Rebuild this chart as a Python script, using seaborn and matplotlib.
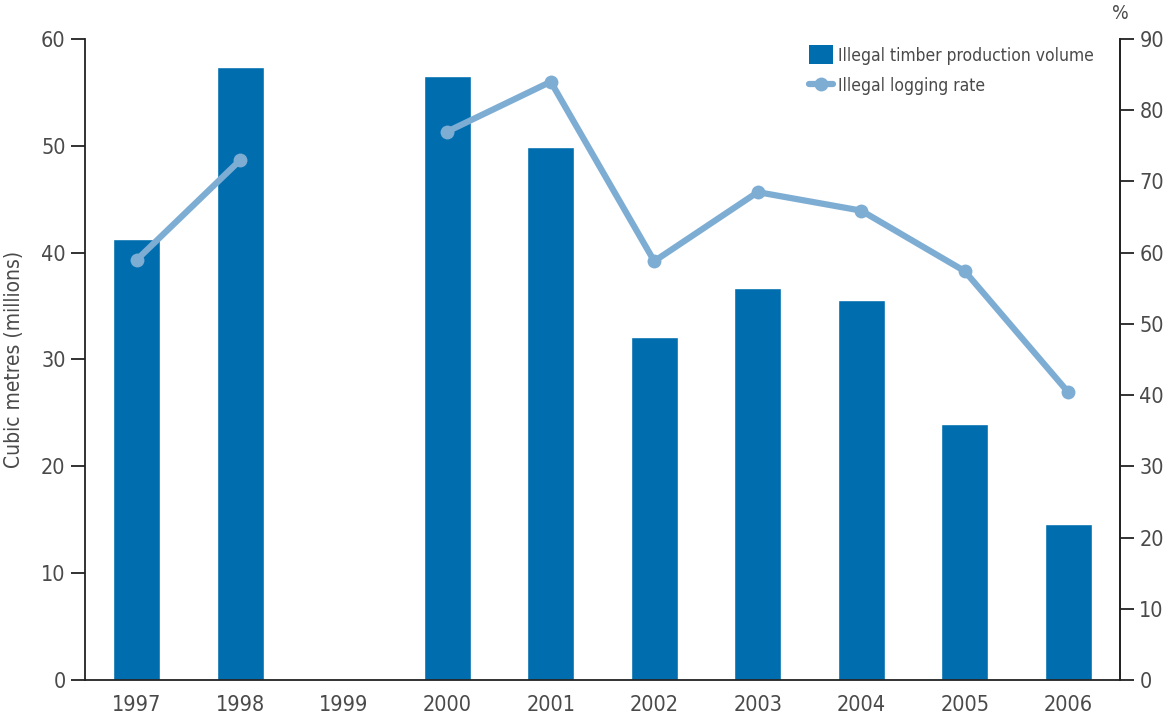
import numpy as np
import pandas as pd
import matplotlib
matplotlib.use("Agg")
import matplotlib.pyplot as plt
from matplotlib.lines import Line2D
from matplotlib.patches import Patch
import seaborn as sns

years = ["1997", "1998", "1999", "2000", "2001", "2002", "2003", "2004", "2005", "2006"]
volume = [41.3, 57.4, np.nan, 56.5, 49.9, 32.1, 36.7, 35.6, 24.0, 14.6]
rate = [59.0, 73.0, np.nan, 77.0, 84.0, 58.8, 68.5, 65.9, 57.4, 40.4]

bar_color = "#006eae"
line_color = "#7eadd4"
text_color = "#4a4a4a"

sns.set_style("white")
plt.rcParams["font.family"] = ["DejaVu Sans"]
plt.rcParams["font.stretch"] = "condensed"

df = pd.DataFrame({"year": years, "volume": volume, "rate": rate})
df["pos"] = np.arange(len(years))
df["seg"] = np.cumsum(df["rate"].isna().astype(int).values)

fig = plt.figure(figsize=(11.63, 7.22), dpi=100)
ax = fig.add_axes([0.0731, 0.0582, 0.8899, 0.8878])

sns.barplot(data=df, x="year", y="volume", color=bar_color, saturation=1,
            width=0.45, ax=ax, order=years)
ax.set_xlim(-0.5, len(years) - 0.5)
ax.set_ylim(0, 60)
ax.set_yticks(range(0, 61, 10))
ax.set_xticks(np.arange(-0.5, len(years), 1.0))
ax.set_xticklabels([])
ax.set_xticks(np.arange(len(years)), minor=True)
ax.set_xticklabels(years, minor=True)
ax.tick_params(axis="x", which="major", direction="out", length=8, width=1.3, color="#222222")
ax.tick_params(axis="x", which="minor", length=0, pad=11, labelsize=15.5, labelcolor=text_color)
ax.tick_params(axis="y", direction="out", length=10, width=1.3, color="#222222",
               labelsize=15.5, labelcolor=text_color, pad=4)
ax.set_xlabel("")
ax.set_ylabel("Cubic metres (millions)", fontsize=15, color=text_color, labelpad=12)
ax.spines["top"].set_visible(False)
for s in ["left", "bottom", "right"]:
    ax.spines[s].set_color("#222222")
    ax.spines[s].set_linewidth(1.3)

ax2 = ax.twinx()
ldf = df.dropna(subset=["rate"])
sns.lineplot(data=ldf, x="pos", y="rate", units="seg", estimator=None, ax=ax2,
             color=line_color, linewidth=4.5, marker="o", markersize=10,
             markeredgewidth=0, legend=False)
ax2.set_xlim(-0.5, len(years) - 0.5)
ax2.set_ylim(0, 90)
ax2.set_yticks(range(0, 91, 10))
ax2.set_ylabel("")
ax2.set_xlabel("")
ax2.tick_params(axis="y", direction="out", length=10, width=1.3, color="#222222",
                labelsize=15.5, labelcolor=text_color, pad=4)
for s in ["top", "left", "bottom"]:
    ax2.spines[s].set_visible(False)
ax2.spines["right"].set_color("#222222")
ax2.spines["right"].set_linewidth(1.3)

ax2.text(1.0, 1.025, "%", transform=ax2.transAxes, ha="center", va="bottom",
         fontsize=14, color=text_color)

handles = [Patch(facecolor=bar_color, edgecolor="none"),
           Line2D([0], [0], color=line_color, linewidth=4.5, marker="o", markersize=10,
                  markeredgewidth=0)]
leg = ax2.legend(handles, ["Illegal timber production volume", "Illegal logging rate"],
                 loc="upper right", bbox_to_anchor=(0.99, 1.015), frameon=False,
                 fontsize=12.5, handlelength=1.4, handleheight=1.35, handletextpad=0.3,
                 labelspacing=0.65, labelcolor=text_color)

fig.savefig("out.png", dpi=100)
